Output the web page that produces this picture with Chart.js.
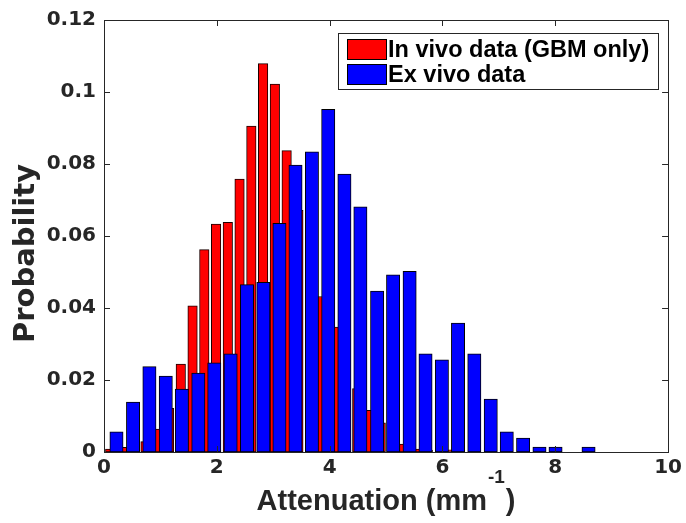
<!DOCTYPE html>
<html>
<head>
<meta charset="utf-8">
<script src="https://cdn.jsdelivr.net/npm/chart.js@4"></script>
<style>
  html, body { margin: 0; padding: 0; background: #ffffff; }
  #wrap { width: 686px; height: 523px; }
</style>
</head>
<body>
<div id="wrap"><canvas id="c" width="686" height="523"></canvas></div>
<script>
// ---- data ----
const seriesNames = ['In vivo data (GBM only)', 'Ex vivo data'];

const redBinCenters = [0.110, 0.319, 0.527, 0.736, 0.944, 1.153, 1.361, 1.570, 1.778, 1.987,
                       2.195, 2.403, 2.612, 2.820, 3.029, 3.238, 3.446, 3.655, 3.863, 4.072,
                       4.280, 4.489, 4.697, 4.906, 5.114, 5.323, 5.531, 5.740, 5.948, 6.156];
const redProb = [0.0008, 0.0013, 0.0020, 0.0029, 0.0064, 0.0121, 0.0244, 0.0406, 0.0562, 0.0633,
                 0.0638, 0.0758, 0.0905, 0.1079, 0.1022, 0.0837, 0.0671, 0.0550, 0.0432, 0.0347,
                 0.0250, 0.0176, 0.0116, 0.0081, 0.0040, 0.0022, 0.0008, 0.0005, 0.0000, 0.0006];

const blueBinCenters = [0.221, 0.515, 0.805, 1.095, 1.380, 1.672, 1.955, 2.245, 2.535, 2.825,
                        3.110, 3.395, 3.686, 3.975, 4.262, 4.545, 4.842, 5.125, 5.418, 5.700,
                        5.990, 6.276, 6.565, 6.856, 7.140, 7.430, 7.720, 8.005, 8.300, 8.590];
const blueProb = [0.0056, 0.0139, 0.0237, 0.0211, 0.0175, 0.0219, 0.0248, 0.0273, 0.0465, 0.0471,
                  0.0635, 0.0797, 0.0834, 0.0952, 0.0772, 0.0681, 0.0447, 0.0492, 0.0502, 0.0273,
                  0.0256, 0.0358, 0.0273, 0.0147, 0.0056, 0.0039, 0.0014, 0.0014, 0.0000, 0.0014];

const xTickValues = [0, 2, 4, 6, 8, 10];
const yTickValues = [0, 0.02, 0.04, 0.06, 0.08, 0.1, 0.12];

const xTitleMain = 'Attenuation (mm';
const xTitleSup = '-1';
const xTitleEnd = ')';
const yTitle = 'Probability';

// ---- chart ----
const TEXT = '#262626';
const tickFont = { family: 'DejaVu Sans', weight: 'bold', size: 20 };

const decorPlugin = {
  id: 'decor',
  afterDraw(chart) {
    const ctx = chart.ctx;
    const a = chart.chartArea;
    const xs = chart.scales.x, ys = chart.scales.y;
    ctx.save();
    // axes box
    ctx.strokeStyle = '#262626';
    ctx.lineWidth = 1;
    ctx.strokeRect(Math.round(a.left) + 0.5, Math.round(a.top) + 0.5,
                   Math.round(a.right - a.left), Math.round(a.bottom - a.top));
    // inward ticks on all sides
    const TL = 6;
    ctx.beginPath();
    xs.ticks.forEach(t => {
      const px = Math.round(xs.getPixelForValue(t.value)) + 0.5;
      ctx.moveTo(px, a.bottom); ctx.lineTo(px, a.bottom - TL);
      ctx.moveTo(px, a.top); ctx.lineTo(px, a.top + TL);
    });
    ys.ticks.forEach(t => {
      const py = Math.round(ys.getPixelForValue(t.value)) + 0.5;
      ctx.moveTo(a.left, py); ctx.lineTo(a.left + TL, py);
      ctx.moveTo(a.right, py); ctx.lineTo(a.right - TL, py);
    });
    ctx.stroke();

    // y title
    ctx.fillStyle = TEXT;
    ctx.font = 'bold 29px "DejaVu Sans"';
    ctx.save();
    ctx.translate(33.5, 253.5);
    ctx.rotate(-Math.PI / 2);
    ctx.textAlign = 'center';
    ctx.textBaseline = 'alphabetic';
    ctx.fillText(yTitle, 0, 0);
    ctx.restore();

    // x title with superscript
    const mainFont = 'bold 29px "Liberation Sans"';
    const supFont = 'bold 19px "Liberation Sans"';
    ctx.textBaseline = 'alphabetic';
    ctx.textAlign = 'left';
    ctx.font = mainFont; const w1 = ctx.measureText(xTitleMain).width;
    const w3 = ctx.measureText(xTitleEnd).width;
    ctx.font = supFont; const w2 = ctx.measureText(xTitleSup).width;
    const total = w1 + 1 + w2 + 1 + w3;
    let x0 = (a.left + a.right) / 2 - total / 2;
    const base = 510;
    ctx.font = mainFont; ctx.fillText(xTitleMain, x0, base);
    ctx.font = supFont; ctx.fillText(xTitleSup, x0 + w1 + 1, base - 27 + 0);
    ctx.font = mainFont; ctx.fillText(xTitleEnd, x0 + w1 + 1 + w2 + 1, base);

    // legend box
    const bx = a.right - 330, by = a.top + 13, bw = 320, bh = 56;
    ctx.fillStyle = '#ffffff';
    ctx.fillRect(bx, by, bw, bh);
    ctx.strokeStyle = '#262626';
    ctx.strokeRect(Math.round(bx) + 0.5, Math.round(by) + 0.5, bw, bh);
    ctx.font = 'bold 23.5px "Liberation Sans"';
    chart.data.datasets.forEach((ds, i) => {
      const sy = by + 6 + i * 25;
      ctx.fillStyle = ds.backgroundColor;
      ctx.fillRect(bx + 9, sy, 39, 20);
      ctx.strokeStyle = '#000000';
      ctx.strokeRect(Math.round(bx + 9) + 0.5, Math.round(sy) + 0.5, 39, 20);
      ctx.fillStyle = '#000000';
      ctx.fillText(ds.label, bx + 50, sy + 18);
    });
    ctx.restore();
  }
};

new Chart(document.getElementById('c'), {
  type: 'bar',
  data: {
    datasets: [
      {
        label: seriesNames[0],
        data: redBinCenters.map((x, i) => ({ x: x, y: redProb[i] })),
        backgroundColor: '#ff0000',
        borderColor: '#1a0000',
        borderWidth: 1,
        borderSkipped: false,
        barThickness: 9.5,
        grouped: false,
        order: 2
      },
      {
        label: seriesNames[1],
        data: blueBinCenters.map((x, i) => ({ x: x, y: blueProb[i] })),
        backgroundColor: '#0000ff',
        borderColor: '#000000',
        borderWidth: 1,
        borderSkipped: false,
        barThickness: 13.3,
        grouped: false,
        order: 1
      }
    ]
  },
  options: {
    responsive: false,
    devicePixelRatio: 1,
    animation: false,
    layout: { padding: { left: 0, top: 19, right: 16, bottom: 0 } },
    plugins: {
      legend: { display: false },
      tooltip: { enabled: false }
    },
    scales: {
      x: {
        type: 'linear',
        min: 0, max: 10,
        offset: false,
        grid: { display: false, drawTicks: false },
        border: { display: false },
        afterBuildTicks: s => { s.ticks = xTickValues.map(v => ({ value: v })); },
        afterFit: s => { s.height = 71; },
        ticks: {
          color: TEXT, font: tickFont, padding: 4, maxRotation: 0,
          callback: v => String(v)
        }
      },
      y: {
        min: 0, max: 0.12,
        grid: { display: false, drawTicks: false },
        border: { display: false },
        afterBuildTicks: s => { s.ticks = yTickValues.map(v => ({ value: v })); },
        afterFit: s => { s.width = 104; },
        ticks: {
          color: TEXT, font: tickFont, padding: 8,
          callback: v => String(Number(v.toFixed(2)))
        }
      }
    }
  },
  plugins: [decorPlugin]
});
</script>
</body>
</html>
